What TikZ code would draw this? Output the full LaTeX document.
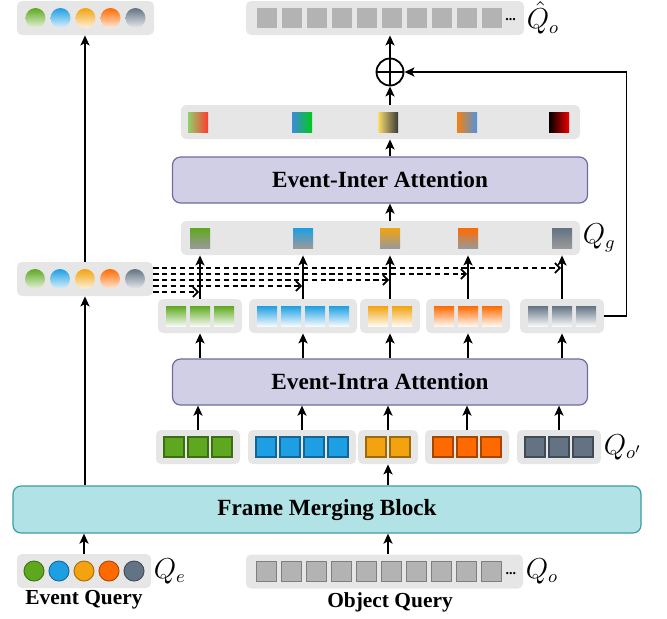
\documentclass[tikz,border=0pt]{standalone}
\usepackage{fontspec}
\setmainfont{Liberation Serif}
\usepackage{amsmath}
\usepackage{xcolor}
\usepackage{tikz}
\usetikzlibrary{arrows.meta,positioning,calc}

\definecolor{panelgray}{HTML}{E6E6E6}
\definecolor{sqgray}{HTML}{B3B3B3}
\definecolor{sqedge}{HTML}{7F7F7F}
\definecolor{cgreen}{HTML}{5EA81F}
\definecolor{cblue}{HTML}{1E9FE3}
\definecolor{corange}{HTML}{F2A30F}
\definecolor{cred}{HTML}{FF6A00}
\definecolor{cgray}{HTML}{637383}
\definecolor{attnfill}{HTML}{D1CFE6}
\definecolor{attndraw}{HTML}{6E6C9E}
\definecolor{mergefill}{HTML}{B0E2E6}
\definecolor{mergedraw}{HTML}{3C9EA4}
\definecolor{mixAl}{HTML}{8FD06A}
\definecolor{mixAr}{HTML}{FF3B30}
\definecolor{mixBl}{HTML}{3D8BDB}
\definecolor{mixBr}{HTML}{00C81A}
\definecolor{mixCl}{HTML}{F9DD6E}
\definecolor{mixCr}{HTML}{3A3A3A}
\definecolor{mixDl}{HTML}{F5820F}
\definecolor{mixDr}{HTML}{4F93E0}
\definecolor{mixEl}{HTML}{000000}
\definecolor{mixEr}{HTML}{F00000}

\begin{document}
\begin{tikzpicture}[
  x=0.5pt, y=-0.5pt,
  panel/.style={rectangle, fill=panelgray, rounded corners=2.5pt, inner sep=0pt,
                minimum height=17pt},
  sq/.style={rectangle, inner sep=0pt, minimum size=10pt},
  ball/.style={circle, inner sep=0pt, minimum size=10pt},
  attn/.style={rectangle, rounded corners=4pt, fill=attnfill, draw=attndraw, line width=0.6pt,
               minimum width=207.5pt, minimum height=23pt,
               font=\fontsize{11.6}{14}\selectfont\bfseries},
  merge/.style={rectangle, rounded corners=4pt, fill=mergefill, draw=mergedraw, line width=0.6pt,
                minimum width=314pt, minimum height=23.5pt,
                font=\fontsize{11.6}{14}\selectfont\bfseries},
  arrow/.style={-{Stealth[length=5pt,width=4.5pt,inset=1.2pt]}, line width=0.9pt},
  dasharrow/.style={-{Straight Barb[length=2.5pt,width=5pt]}, line width=0.9pt,
                    dash pattern=on 2.6pt off 1.8pt},
  qname/.style={anchor=west, inner sep=1pt, font=\fontsize{13.5}{16}\selectfont},
  qtitle/.style={anchor=base, inner sep=0pt, font=\fontsize{10.7}{13}\selectfont\bfseries},
  dots/.style={inner sep=0pt, font=\fontsize{7}{7}\selectfont\bfseries}
]
  \useasboundingbox (0,0) rectangle (667,618);

  \node[panel, minimum width=67pt] (evq) at (84,571) {};
  \foreach \c [count=\k] in {cgreen,cblue,corange,cred,cgray}
    \node[ball, fill=\c, draw=\c!70!black, line width=0.5pt] (evq-\k)
      at ([xshift={(\k-3)*12.5pt}]evq.center) {};
  \node[qname] (qe) at (evq.east) {$Q_e$};
  \node[qtitle] (evqtxt) at (84,604) {Event Query};

  \node[panel, minimum width=138.5pt] (obj) at (384.5,571.5) {};
  \foreach \k in {1,...,10}
    \node[sq, fill=sqgray, draw=sqedge, line width=0.5pt] (obj-\k)
      at ([xshift={10.5pt+12.5pt*(\k-1)}]obj.west) {};
  \node[dots, right=1.5pt of obj-10, yshift=-1pt] (objdots) {...};
  \node[qname] (qo) at (obj.east) {$Q_o$};
  \node[qtitle] (objtxt) at (390,607) {Object Query};

  \node[merge] (fmb) at (327,509.5) {Frame Merging Block};

  \foreach \i/\x/\n/\c in {1/198/3/cgreen, 2/302/4/cblue, 3/388/2/corange,
                           4/467/3/cred, 5/559/3/cgray}{
    \pgfmathsetmacro\w{18+12*(\n-1)}
    \node[panel, minimum width=\w pt] (lo\i) at (\x,447) {};
    \foreach \k in {1,...,\n}
      \node[sq, fill=\c, draw=\c!65!black, line width=0.6pt] (lo\i-\k)
        at ([xshift={12pt*(\k-(\n+1)/2)}]lo\i.center) {};
  }
  \node[qname] (qop) at (lo5.east) {$Q_{o'}$};

  \node[attn] (intra) at (380,382) {Event-Intra Attention};

  \foreach \i/\x/\n/\c in {1/200/3/cgreen, 2/303/4/cblue, 3/390/2/corange,
                           4/468/3/cred, 5/562/3/cgray}{
    \pgfmathsetmacro\w{18+12*(\n-1)}
    \node[panel, minimum width=\w pt] (hi\i) at (\x,316) {};
    \foreach \k in {1,...,\n}
      \node[sq, top color=\c, bottom color=\c!5] (hi\i-\k)
        at ([xshift={12pt*(\k-(\n+1)/2)}]hi\i.center) {};
  }

  \node[panel, minimum width=68pt] (evmid) at (85,279) {};
  \foreach \c [count=\k] in {cgreen,cblue,corange,cred,cgray}
    \node[ball, top color=\c, bottom color=\c!15] (evmid-\k)
      at ([xshift={(\k-3)*12.5pt}]evmid.center) {};

  \node[panel, minimum width=199.5pt] (qg) at (380.5,238) {};
  \foreach \c [count=\i] in {cgreen,cblue,corange,cred,cgray}
    \node[sq, top color=\c, bottom color=black!40] (qg-\i) at (hi\i |- qg) {};
  \node[qname] (qglbl) at (qg.east) {$Q_g$};

  \node[attn] (inter) at (380,180) {Event-Inter Attention};

  \node[panel, minimum width=199.5pt] (mix) at (380.5,122) {};
  \foreach \l/\r [count=\i] in {mixAl/mixAr, mixBl/mixBr, mixCl/mixCr, mixDl/mixDr, mixEl/mixEr}
    \node[sq, left color=\l, right color=\r] (mix-\i) at (lo\i |- mix) {};

  \node[circle, draw, line width=0.9pt, minimum size=13.5pt, inner sep=0pt] (plus) at (390,72) {};
  \draw[line width=0.9pt] (plus.north) -- (plus.south) (plus.west) -- (plus.east);

  \node[panel, minimum width=139pt] (qhat) at (385,18) {};
  \foreach \k in {1,...,10}
    \node[sq, fill=sqgray] (qhat-\k) at ([xshift={10.5pt+12.5pt*(\k-1)}]qhat.west) {};
  \node[dots, right=1.5pt of qhat-10, yshift=-1pt] (qhatdots) {...};
  \node[qname] (qhatlbl) at (qhat.east) {$\hat{Q}_o$};

  \node[panel, minimum width=68.5pt] (evtop) at (85.5,18) {};
  \foreach \c [count=\k] in {cgreen,cblue,corange,cred,cgray}
    \node[ball, top color=\c, bottom color=\c!15] (evtop-\k)
      at ([xshift={(\k-3)*12.5pt}]evtop.center) {};

  \foreach \i/\s in {1/-6.5, 2/-3.5, 3/-0.5, 4/2.5, 5/5.5}
    \draw[dasharrow] ($(evmid.east)+(0,\s pt)$) -- ($(evmid.east -| hi\i.north)+(-0.4pt,\s pt)$);

  \draw[arrow] (evq.north) -- (evq.north |- fmb.south);
  \draw[arrow] (evmid.south |- fmb.north) -- (evmid.south);
  \draw[arrow] (evmid.north) -- (evmid.north |- evtop.south);
  \draw[arrow] (lo3.south |- obj.north) -- (lo3.south |- fmb.south);
  \draw[arrow] (lo3.south |- fmb.north) -- (lo3.south);
  \foreach \i in {1,...,5}{
    \draw[arrow] (lo\i.north) -- (lo\i.north |- intra.south);
    \draw[arrow] (hi\i.south |- intra.north) -- (hi\i.south);
    \draw[arrow] (hi\i.north) -- (hi\i.north |- qg.south);
  }
  \draw[arrow] (qg-3.north |- qg.north) -- (qg-3.north |- inter.south);
  \draw[arrow] (qg-3.south |- inter.north) -- (qg-3.south |- mix.south);
  \draw[arrow] (plus |- mix.north) -- (plus.south);
  \draw[arrow] (plus.north) -- (plus |- qhat.south);
  \draw[arrow] (hi5.east) -- ++(22,0) |- (plus.east);
\end{tikzpicture}
\end{document}
